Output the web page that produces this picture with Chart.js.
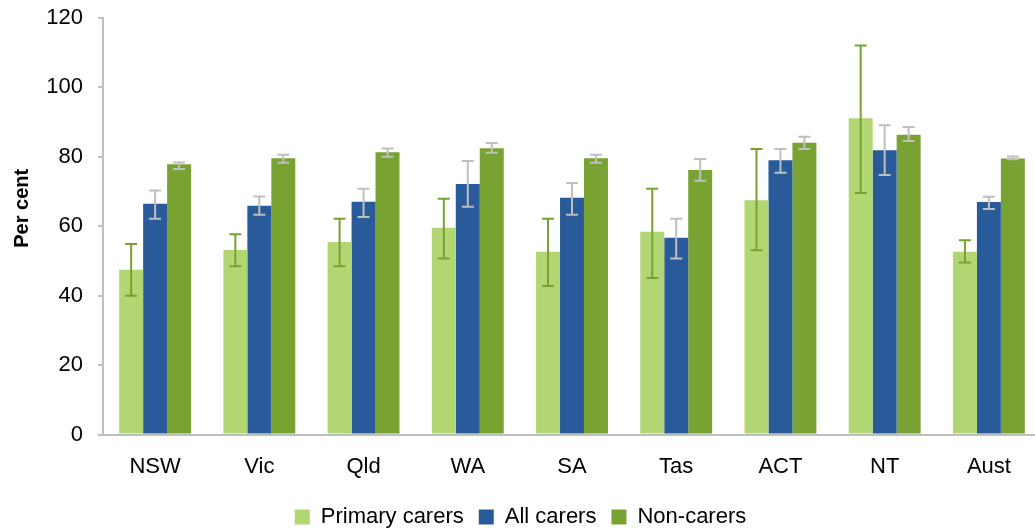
<!DOCTYPE html>
<html>
<head>
<meta charset="utf-8">
<script src="https://cdn.jsdelivr.net/npm/chart.js@4/dist/chart.umd.min.js"></script>
<style>
  html, body { margin: 0; padding: 0; background: #fff; overflow: hidden; }
  #wrap { width: 1035px; height: 531px; overflow: hidden; }
</style>
</head>
<body>
<div id="wrap"><canvas id="chart" width="1041" height="531"></canvas></div>
<script>
// Données
const states = ['NSW', 'Vic', 'Qld', 'WA', 'SA', 'Tas', 'ACT', 'NT', 'Aust'];

const primaryCarers = [47.5, 53.2, 55.5, 59.6, 52.7, 58.4, 67.5, 91.1, 52.7];
const primaryLow    = [40.0, 48.5, 48.5, 50.7, 42.8, 45.1, 53.1, 69.6, 49.6];
const primaryHigh   = [54.9, 57.7, 62.2, 67.9, 62.2, 70.8, 82.3, 112.1, 56.0];

const allCarers = [66.5, 65.9, 67.1, 72.2, 68.2, 56.7, 79.0, 81.9, 67.0];
const allLow    = [62.2, 63.3, 62.7, 65.6, 63.3, 50.7, 75.4, 74.8, 65.0];
const allHigh   = [70.3, 68.6, 70.8, 78.8, 72.5, 62.2, 82.3, 89.1, 68.5];

const nonCarers = [77.9, 79.6, 81.3, 82.5, 79.6, 76.2, 84.1, 86.4, 79.5];
const nonLow    = [76.5, 78.3, 80.0, 81.2, 78.3, 73.1, 82.3, 84.6, 79.3];
const nonHigh   = [78.4, 80.6, 82.4, 84.0, 80.6, 79.4, 85.8, 88.6, 80.1];

const yTicks = [0, 20, 40, 60, 80, 100, 120];
const yTitle = 'Per cent';

// Barres d'erreur (intervalles) dessinées après les barres
const errorBars = [
  { low: primaryLow, high: primaryHigh, color: '#77a22f' },
  { low: allLow, high: allHigh, color: '#bfbfbf' },
  { low: nonLow, high: nonHigh, color: '#bfbfbf' }
];

const errorBarPlugin = {
  id: 'errorBars',
  afterDatasetsDraw(chart) {
    const ctx = chart.ctx;
    const yScale = chart.scales.y;
    errorBars.forEach((err, i) => {
      const meta = chart.getDatasetMeta(i);
      ctx.save();
      ctx.strokeStyle = err.color;
      ctx.lineWidth = 2;
      meta.data.forEach((bar, j) => {
        const x = bar.x;
        const yLow = yScale.getPixelForValue(err.low[j]);
        const yHigh = yScale.getPixelForValue(err.high[j]);
        const cap = 6;
        ctx.beginPath();
        ctx.moveTo(x, yLow); ctx.lineTo(x, yHigh);
        ctx.moveTo(x - cap, yLow); ctx.lineTo(x + cap, yLow);
        ctx.moveTo(x - cap, yHigh); ctx.lineTo(x + cap, yHigh);
        ctx.stroke();
      });
      ctx.restore();
    });
  }
};

// Titre de l'axe Y, un peu au-dessus du milieu comme dans l'original
const yTitlePlugin = {
  id: 'yTitle',
  afterDraw(chart) {
    const ctx = chart.ctx;
    const area = chart.chartArea;
    ctx.save();
    ctx.translate(22, (area.top + area.bottom) / 2 - 18);
    ctx.rotate(-Math.PI / 2);
    ctx.font = 'bold 20px "Liberation Sans", Arial, sans-serif';
    ctx.fillStyle = '#000';
    ctx.textAlign = 'center';
    ctx.textBaseline = 'middle';
    ctx.fillText(yTitle, 0, 0);
    ctx.restore();
  }
};

const font = { family: 'Liberation Sans, Arial, sans-serif', size: 22 };

new Chart(document.getElementById('chart'), {
  type: 'bar',
  data: {
    labels: states,
    datasets: [
      { label: 'Primary carers', data: primaryCarers, backgroundColor: '#b3d675' },
      { label: 'All carers', data: allCarers, backgroundColor: '#295b9a' },
      { label: 'Non-carers', data: nonCarers, backgroundColor: '#78a231' }
    ]
  },
  options: {
    responsive: false,
    animation: false,
    categoryPercentage: 0.69,
    barPercentage: 1.0,
    layout: { padding: { top: 18, right: 0, left: 0, bottom: -7 } },
    plugins: {
      tooltip: { enabled: false },
      legend: {
        position: 'bottom',
        labels: {
          font: font,
          color: '#000',
          boxWidth: 15,
          boxHeight: 15,
          padding: 15
        }
      }
    },
    scales: {
      x: {
        grid: { display: false },
        border: { color: '#bfbfbf', width: 2 },
        ticks: { font: font, color: '#000', padding: 11 }
      },
      y: {
        min: 0,
        max: 120,
        afterBuildTicks: scale => { scale.ticks = yTicks.map(v => ({ value: v })); },
        afterFit: scale => {
          scale.width = 103;
          scale.paddingTop = 0;
        },
        grid: { drawOnChartArea: false, drawTicks: true, tickLength: 5, color: '#bfbfbf', lineWidth: 2 },
        border: { color: '#bfbfbf', width: 2 },
        ticks: { font: font, color: '#000', padding: 15 }
      }
    }
  },
  plugins: [errorBarPlugin, yTitlePlugin]
});
</script>
</body>
</html>
